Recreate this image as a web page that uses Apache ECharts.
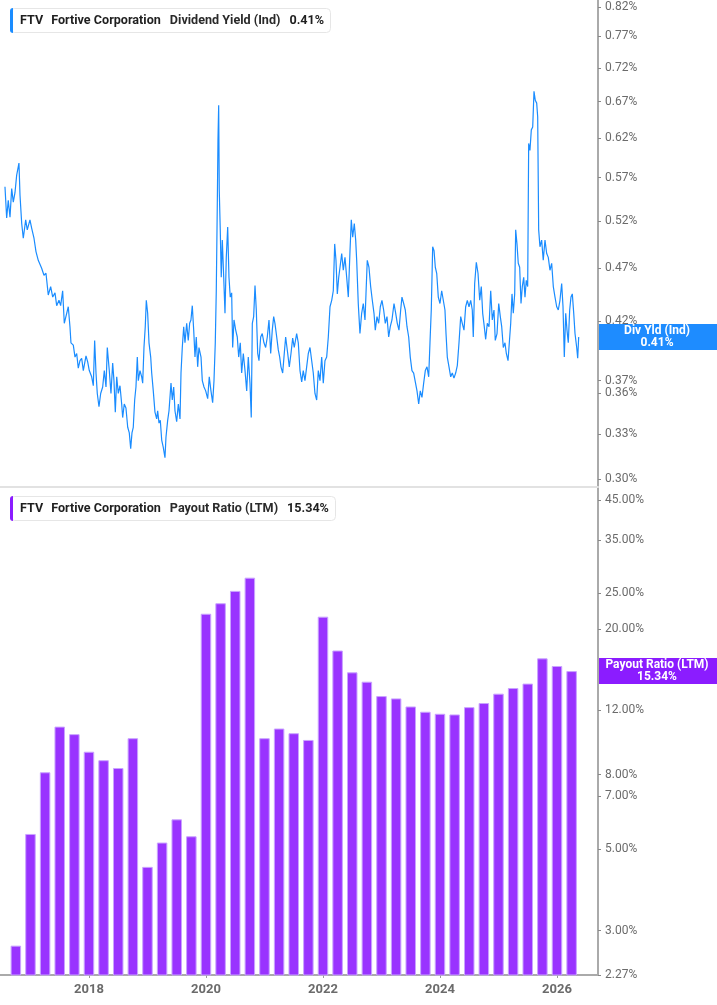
<!DOCTYPE html>
<html>
<head>
<meta charset="utf-8">
<script src="https://cdn.jsdelivr.net/npm/echarts@6/dist/echarts.min.js"></script>
<style>
  html, body { margin: 0; padding: 0; background: #fff; }
  #chart { width: 717px; height: 1005px; }
</style>
</head>
<body>
<div id="chart"></div>
<script>
// FTV dividend yield (daily) and quarterly payout ratio
var ticker = 'FTV';
var company = 'Fortive Corporation';

// decimal years
var yieldYears = [
  2016.564, 2016.593, 2016.620, 2016.650, 2016.679, 2016.706, 2016.735, 2016.764, 2016.803, 2016.821,
  2016.850, 2016.877, 2016.918, 2016.945, 2016.991, 2017.020, 2017.060, 2017.094, 2017.133, 2017.162,
  2017.191, 2017.231, 2017.265, 2017.304, 2017.345, 2017.380, 2017.419, 2017.448, 2017.487, 2017.516,
  2017.550, 2017.578, 2017.619, 2017.646, 2017.675, 2017.692, 2017.732, 2017.761, 2017.790, 2017.817,
  2017.846, 2017.875, 2017.903, 2017.949, 2017.978, 2018.005, 2018.046, 2018.074, 2018.097, 2018.120,
  2018.142, 2018.171, 2018.200, 2018.234, 2018.262, 2018.291, 2018.313, 2018.347, 2018.376, 2018.405,
  2018.427, 2018.450, 2018.474, 2018.501, 2018.530, 2018.559, 2018.576, 2018.603, 2018.632, 2018.662,
  2018.689, 2018.713, 2018.735, 2018.757, 2018.781, 2018.803, 2018.826, 2018.843, 2018.872, 2018.901,
  2018.918, 2018.940, 2018.962, 2018.980, 2019.003, 2019.026, 2019.055, 2019.072, 2019.099, 2019.128,
  2019.157, 2019.174, 2019.197, 2019.219, 2019.243, 2019.270, 2019.299, 2019.316, 2019.345, 2019.368,
  2019.402, 2019.424, 2019.448, 2019.470, 2019.499, 2019.527, 2019.556, 2019.573, 2019.595, 2019.619,
  2019.641, 2019.670, 2019.697, 2019.721, 2019.743, 2019.766, 2019.790, 2019.812, 2019.834, 2019.858,
  2019.880, 2019.915, 2019.937, 2019.966, 2019.995, 2020.029, 2020.056, 2020.085, 2020.114, 2020.137,
  2020.159, 2020.176, 2020.193, 2020.205, 2020.217, 2020.227, 2020.244, 2020.261, 2020.279, 2020.303,
  2020.325, 2020.347, 2020.371, 2020.393, 2020.415, 2020.439, 2020.456, 2020.479, 2020.508, 2020.535,
  2020.559, 2020.586, 2020.610, 2020.638, 2020.667, 2020.696, 2020.723, 2020.752, 2020.774, 2020.792,
  2020.815, 2020.838, 2020.860, 2020.884, 2020.906, 2020.935, 2020.962, 2020.991, 2021.020, 2021.048,
  2021.077, 2021.106, 2021.133, 2021.157, 2021.179, 2021.209, 2021.236, 2021.260, 2021.282, 2021.311,
  2021.333, 2021.362, 2021.397, 2021.424, 2021.453, 2021.482, 2021.509, 2021.550, 2021.578, 2021.607,
  2021.636, 2021.663, 2021.692, 2021.721, 2021.749, 2021.778, 2021.807, 2021.834, 2021.863, 2021.892,
  2021.920, 2021.949, 2021.978, 2022.005, 2022.034, 2022.063, 2022.091, 2022.120, 2022.149, 2022.176,
  2022.200, 2022.222, 2022.245, 2022.269, 2022.291, 2022.320, 2022.347, 2022.376, 2022.405, 2022.433,
  2022.462, 2022.484, 2022.508, 2022.535, 2022.559, 2022.576, 2022.603, 2022.632, 2022.661, 2022.689,
  2022.718, 2022.735, 2022.757, 2022.786, 2022.815, 2022.843, 2022.872, 2022.894, 2022.923, 2022.952,
  2022.980, 2023.008, 2023.037, 2023.065, 2023.094, 2023.123, 2023.150, 2023.179, 2023.214, 2023.243,
  2023.270, 2023.299, 2023.328, 2023.350, 2023.379, 2023.407, 2023.436, 2023.465, 2023.492, 2023.521,
  2023.550, 2023.578, 2023.607, 2023.636, 2023.663, 2023.692, 2023.721, 2023.749, 2023.778, 2023.807,
  2023.829, 2023.851, 2023.875, 2023.898, 2023.920, 2023.944, 2023.971, 2024.000, 2024.029, 2024.056,
  2024.085, 2024.103, 2024.125, 2024.154, 2024.183, 2024.210, 2024.239, 2024.268, 2024.296, 2024.325,
  2024.354, 2024.381, 2024.410, 2024.439, 2024.467, 2024.496, 2024.525, 2024.552, 2024.569, 2024.593,
  2024.621, 2024.650, 2024.679, 2024.706, 2024.730, 2024.757, 2024.781, 2024.809, 2024.838, 2024.867,
  2024.894, 2024.923, 2024.945, 2024.975, 2025.004, 2025.031, 2025.055, 2025.082, 2025.111, 2025.134,
  2025.163, 2025.185, 2025.209, 2025.231, 2025.253, 2025.277, 2025.294, 2025.316, 2025.338, 2025.362,
  2025.385, 2025.407, 2025.431, 2025.453, 2025.475, 2025.499, 2025.516, 2025.538, 2025.561, 2025.585,
  2025.607, 2025.629, 2025.653, 2025.670, 2025.687, 2025.709, 2025.738, 2025.765, 2025.795, 2025.824,
  2025.851, 2025.880, 2025.909, 2025.937, 2025.966, 2025.995, 2026.022, 2026.051, 2026.080, 2026.103,
  2026.125, 2026.149, 2026.171, 2026.193, 2026.217, 2026.239, 2026.262, 2026.286, 2026.308, 2026.337,
  2026.354, 2026.371
];

// dividend yield, %
var yieldValues = [
  0.559, 0.523, 0.543, 0.524, 0.557, 0.541, 0.552, 0.573, 0.588, 0.549,
  0.517, 0.501, 0.521, 0.510, 0.521, 0.512, 0.501, 0.487, 0.478, 0.480,
  0.470, 0.463, 0.465, 0.444, 0.452, 0.442, 0.446, 0.434, 0.439, 0.434,
  0.448, 0.418, 0.427, 0.433, 0.415, 0.401, 0.399, 0.389, 0.392, 0.380,
  0.386, 0.388, 0.378, 0.390, 0.385, 0.378, 0.373, 0.366, 0.403, 0.376,
  0.360, 0.350, 0.360, 0.365, 0.378, 0.365, 0.397, 0.378, 0.360, 0.384,
  0.370, 0.346, 0.373, 0.360, 0.366, 0.352, 0.342, 0.352, 0.349, 0.335,
  0.331, 0.320, 0.331, 0.335, 0.355, 0.365, 0.389, 0.370, 0.378, 0.373,
  0.368, 0.397, 0.415, 0.439, 0.427, 0.401, 0.389, 0.376, 0.362, 0.346,
  0.341, 0.347, 0.338, 0.340, 0.326, 0.321, 0.314, 0.328, 0.340, 0.347,
  0.368, 0.355, 0.365, 0.347, 0.339, 0.352, 0.341, 0.376, 0.397, 0.415,
  0.401, 0.418, 0.403, 0.418, 0.421, 0.434, 0.412, 0.389, 0.406, 0.381,
  0.397, 0.389, 0.370, 0.365, 0.362, 0.356, 0.373, 0.362, 0.353, 0.370,
  0.401, 0.448, 0.536, 0.618, 0.665, 0.555, 0.510, 0.461, 0.499, 0.461,
  0.427, 0.481, 0.513, 0.461, 0.442, 0.446, 0.397, 0.421, 0.412, 0.406,
  0.389, 0.401, 0.376, 0.392, 0.378, 0.362, 0.389, 0.368, 0.342, 0.418,
  0.424, 0.453, 0.430, 0.392, 0.386, 0.406, 0.409, 0.401, 0.397, 0.406,
  0.421, 0.392, 0.412, 0.424, 0.418, 0.406, 0.395, 0.389, 0.381, 0.376,
  0.389, 0.406, 0.392, 0.381, 0.392, 0.405, 0.397, 0.409, 0.401, 0.378,
  0.369, 0.378, 0.370, 0.381, 0.392, 0.397, 0.386, 0.376, 0.360, 0.355,
  0.378, 0.370, 0.389, 0.368, 0.386, 0.389, 0.406, 0.433, 0.439, 0.448,
  0.495, 0.478, 0.445, 0.461, 0.471, 0.485, 0.468, 0.481, 0.461, 0.442,
  0.488, 0.521, 0.502, 0.517, 0.499, 0.478, 0.436, 0.409, 0.427, 0.436,
  0.421, 0.445, 0.478, 0.471, 0.452, 0.439, 0.427, 0.412, 0.424, 0.418,
  0.433, 0.439, 0.430, 0.418, 0.424, 0.406, 0.415, 0.421, 0.436, 0.427,
  0.418, 0.412, 0.430, 0.442, 0.436, 0.430, 0.415, 0.406, 0.389, 0.378,
  0.376, 0.377, 0.362, 0.352, 0.362, 0.357, 0.368, 0.378, 0.381, 0.373,
  0.401, 0.430, 0.492, 0.488, 0.471, 0.465, 0.442, 0.436, 0.448, 0.448,
  0.430, 0.409, 0.389, 0.381, 0.373, 0.376, 0.372, 0.376, 0.382, 0.401,
  0.424, 0.418, 0.412, 0.433, 0.439, 0.433, 0.439, 0.430, 0.406, 0.455,
  0.476, 0.465, 0.439, 0.452, 0.427, 0.415, 0.404, 0.418, 0.415, 0.448,
  0.421, 0.430, 0.403, 0.409, 0.436, 0.424, 0.415, 0.397, 0.401, 0.392,
  0.386, 0.401, 0.418, 0.445, 0.427, 0.445, 0.510, 0.495, 0.475, 0.471,
  0.436, 0.452, 0.461, 0.442, 0.458, 0.452, 0.613, 0.604, 0.631, 0.635,
  0.685, 0.672, 0.668, 0.649, 0.510, 0.492, 0.499, 0.478, 0.499, 0.485,
  0.481, 0.468, 0.475, 0.452, 0.442, 0.433, 0.430, 0.439, 0.455, 0.433,
  0.389, 0.427, 0.412, 0.401, 0.430, 0.442, 0.445, 0.427, 0.409, 0.397,
  0.388, 0.406
];

// quarter ends, decimal years
var payoutQuarters = [
  2016.75, 2017.00, 2017.25, 2017.50, 2017.75, 2018.00, 2018.25, 2018.50, 2018.75, 2019.00,
  2019.25, 2019.50, 2019.75, 2020.00, 2020.25, 2020.50, 2020.75, 2021.00, 2021.25, 2021.50,
  2021.75, 2022.00, 2022.25, 2022.50, 2022.75, 2023.00, 2023.25, 2023.50, 2023.75, 2024.00,
  2024.25, 2024.50, 2024.75, 2025.00, 2025.25, 2025.50, 2025.75, 2026.00, 2026.25
];

// payout ratio (LTM), %
var payoutValues = [
  2.73, 5.51, 8.12, 10.82, 10.32, 9.24, 8.76, 8.34, 10.06, 4.48,
  5.22, 6.04, 5.43, 22.0, 23.5, 25.4, 27.6, 10.06, 10.69, 10.38,
  9.95, 21.6, 17.46, 15.22, 14.35, 13.11, 12.92, 12.28, 11.88, 11.73,
  11.68, 12.23, 12.55, 13.31, 13.79, 14.18, 16.62, 15.84, 15.34
];

var yearTicks = [2018, 2020, 2022, 2024, 2026];
var yieldTicks = [0.30, 0.33, 0.36, 0.37, 0.42, 0.47, 0.52, 0.57, 0.62, 0.67, 0.72, 0.77, 0.82];
var payoutTicks = [2.27, 3, 5, 7, 8, 12, 20, 25, 35, 45];

var blue = '#1a8cff';
var purple = '#9933ff';
var font = 'Roboto';

var chart = echarts.init(document.getElementById('chart'));

var xMin = 2016.479, xMax = 2026.701;

function yAxisFor(idx, min, max, ticks) {
  return {
    gridIndex : idx,
    type : 'log',
    position : 'right',
    min : min,
    max : max,
    axisLine : { show : true, lineStyle : { color : '#aaaaaa', width : 2 } },
    axisTick : { show : true, length : 3, customValues : ticks, lineStyle : { color : '#888888' } },
    axisLabel : {
      customValues : ticks,
      formatter : function(v){ return v.toFixed(2) + '%'; },
      color : '#6b6b6b',
      fontFamily : font,
      fontSize : 12,
      margin : 7
    },
    splitLine : { show : false }
  };
}

function titleFor(top, label, value) {
  return {
    left : 10,
    top : top,
    text : '{a|' + ticker + '}{b|' + company + '}{c|' + label + '}{d|' + value + '}',
    backgroundColor : '#ffffff',
    borderColor : '#e6e6e6',
    borderWidth : 1,
    borderRadius : 4,
    padding : [6, 7, 6, 10],
    textStyle : {
      rich : {
        a : { fontFamily : font, fontWeight : 'bold', fontSize : 12.6, lineHeight : 13, color : '#1f1f1f', padding : [0, 8, 0, 0] },
        b : { fontFamily : font, fontWeight : 'bold', fontSize : 12.6, lineHeight : 13, color : '#1f1f1f', padding : [0, 9, 0, 0] },
        c : { fontFamily : font, fontSize : 12.6, lineHeight : 13, color : '#2a2a2a', padding : [0, 9, 0, 0] },
        d : { fontFamily : font, fontWeight : 'bold', fontSize : 12.6, lineHeight : 13, color : '#1f1f1f' }
      }
    }
  };
}

var option = {
  animation : false,
  backgroundColor : '#ffffff',
  title : [
    titleFor(8, 'Dividend Yield (Ind)', '0.41%'),
    titleFor(496, 'Payout Ratio (LTM)', '15.34%')
  ],
  grid : [
    { left : 0, top : 0, width : 598, height : 487 },
    { left : 0, top : 488, width : 598, height : 487 }
  ],
  xAxis : [
    {
      gridIndex : 0, type : 'value', min : xMin, max : xMax,
      axisLine : { lineStyle : { color : '#e2e2e2', width : 2 } },
      axisTick : { show : false }, axisLabel : { show : false }, splitLine : { show : false }
    },
    {
      gridIndex : 1, type : 'value', min : xMin, max : xMax,
      axisLine : { lineStyle : { color : '#aaaaaa', width : 2 } },
      axisTick : { show : true, length : 3, customValues : yearTicks, lineStyle : { color : '#999999' } },
      axisLabel : {
        customValues : yearTicks,
        formatter : function(v){ return String(v); },
        color : '#6b6b6b', fontFamily : font, fontWeight : 'bold', fontSize : 13, margin : 8
      },
      splitLine : { show : false }
    }
  ],
  yAxis : [
    yAxisFor(0, 0.295, 0.832, yieldTicks),
    yAxisFor(1, 2.27, 48.5, payoutTicks)
  ],
  series : [
    {
      name : 'Div Yld (Ind)',
      type : 'line',
      xAxisIndex : 0, yAxisIndex : 0,
      showSymbol : false,
      lineStyle : { color : blue, width : 1.2 },
      data : yieldYears.map(function(t, i){ return [t, yieldValues[i]]; })
    },
    {
      name : 'Payout Ratio (LTM)',
      type : 'bar',
      xAxisIndex : 1, yAxisIndex : 1,
      barWidth : 10.5,
      clip : true,
      itemStyle : { color : purple, borderColor : '#c9a3ff', borderWidth : 1 },
      data : payoutQuarters.map(function(t, i){ return [t, payoutValues[i]]; })
    }
  ]
};

chart.setOption(option);

// value tags on the right axis, placed at the last value through the axis scales
var lastYield = yieldValues[yieldValues.length - 1];
var lastPayout = payoutValues[payoutValues.length - 1];
var yTag1 = chart.convertToPixel({ yAxisIndex : 0 }, lastYield);
var yTag2 = chart.convertToPixel({ yAxisIndex : 1 }, lastPayout);

function tag(y, color, text) {
  return {
    type : 'group',
    left : 598,
    top : y - 13,
    children : [
      { type : 'rect', shape : { x : 0, y : 0, width : 119, height : 26 }, style : { fill : color } },
      {
        type : 'text', x : 59, y : 13,
        style : {
          text : text, fill : '#ffffff', align : 'center', verticalAlign : 'middle',
          font : 'bold 12px ' + font, lineHeight : 12
        }
      }
    ]
  };
}

chart.setOption({
  graphic : [
    { type : 'rect', left : 10, top : 8, shape : { width : 3, height : 25, r : [3, 0, 0, 3] }, style : { fill : blue }, z : 10 },
    { type : 'rect', left : 10, top : 496, shape : { width : 3, height : 25, r : [3, 0, 0, 3] }, style : { fill : '#8b1cff' }, z : 10 },
    tag(yTag1, '#1e8cff', 'Div Yld (Ind)\n' + lastYield.toFixed(2) + '%'),
    tag(yTag2, '#8b1cff', 'Payout Ratio (LTM)\n' + lastPayout.toFixed(2) + '%')
  ]
});
</script>
</body>
</html>
